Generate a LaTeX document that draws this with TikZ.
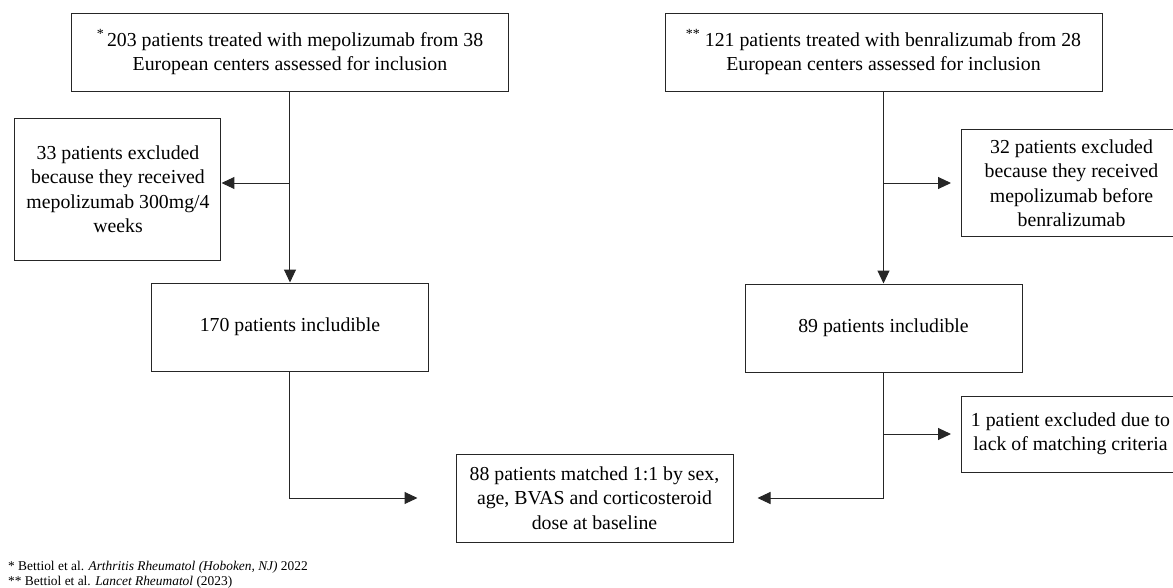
\documentclass[tikz,border=0pt]{standalone}
\usepackage{fontspec}
\setmainfont{Liberation Serif}
\newcommand{\refmark}[1]{\raisebox{0.4em}{\fontsize{14}{14}\selectfont #1}}
\tikzstyle{box} = [draw=black!85, rectangle, line width=1pt, align=center, inner sep=4pt, font=\fontsize{19.8}{24.5}\selectfont]
\tikzstyle{flow} = [draw=black!85, line width=1pt, ->]
\tikzstyle{note} = [anchor=base west, inner sep=0pt, font=\fontsize{13.4}{15}\selectfont]
\usetikzlibrary{positioning, arrows.meta}

\begin{document}
\begin{tikzpicture}[>={Triangle[length=13pt, width=12pt]}, node distance=275pt]
	\useasboundingbox (-290pt,52pt) rectangle (883pt,-535pt);

	% assessed
	\node[box, minimum width=436pt, minimum height=78pt] (mepo) {\refmark{*}\,203 patients treated with mepolizumab from 38\\European centers assessed for inclusion};
	\node[box, minimum width=437pt, minimum height=78pt, right of=mepo, node distance=593.5pt] (benra) {\refmark{**} 121 patients treated with benralizumab from 28\\European centers assessed for inclusion};

	% includible
	\node[box, minimum width=276pt, minimum height=88pt, below of=mepo] (mepoin) {170 patients includible};
	\node[box, minimum width=277pt, minimum height=88pt, below of=benra, node distance=276pt] (benrain) {89 patients includible};

	% exclusions
	\coordinate[below of=mepo, node distance=131pt] (mepocut);
	\node[box, minimum width=206pt, minimum height=142pt, left of=mepocut, node distance=172pt, yshift=-6pt] (mepoex) {33 patients excluded\\because they received\\mepolizumab 300mg/4\\weeks};
	\coordinate[below of=benra, node distance=131pt] (benracut);
	\node[box, minimum width=220pt, minimum height=107pt, right of=benracut, node distance=188pt] (benraex) {32 patients excluded\\because they received\\mepolizumab before\\benralizumab};
	\coordinate[below of=benrain, node distance=106pt] (matchcut);
	\node[box, minimum width=218pt, minimum height=76pt, right of=matchcut, node distance=187pt] (matchex) {1 patient excluded due to\\lack of matching criteria};

	% matched
	\node[box, minimum width=277pt, minimum height=88pt, below of=mepoin, node distance=171pt, xshift=304.5pt] (match) {88 patients matched 1:1 by sex,\\age, BVAS and corticosteroid\\dose at baseline};

	% connections
	\draw[flow] (mepo) -- (mepoin);
	\draw[flow] (mepocut) -- (mepocut -| mepoex.east);
	\draw[flow] (benra) -- (benrain);
	\draw[flow, shorten >=10pt] (benracut) -- (benraex);
	\draw[flow, shorten >=10pt] (matchcut) -- (matchex);
	\draw[flow, shorten >=38pt] (mepoin) |- (match);
	\draw[flow, shorten >=24pt] (benrain) |- (match);

	% references
	\node[note] at (-282pt,-518pt) (refa) {* Bettiol et al. \textit{Arthritis Rheumatol (Hoboken, NJ)} 2022};
	\node[note] at ([yshift=-15pt]refa.base west) (refb) {** Bettiol et al. \textit{Lancet Rheumatol} (2023)};
\end{tikzpicture}
\end{document}
